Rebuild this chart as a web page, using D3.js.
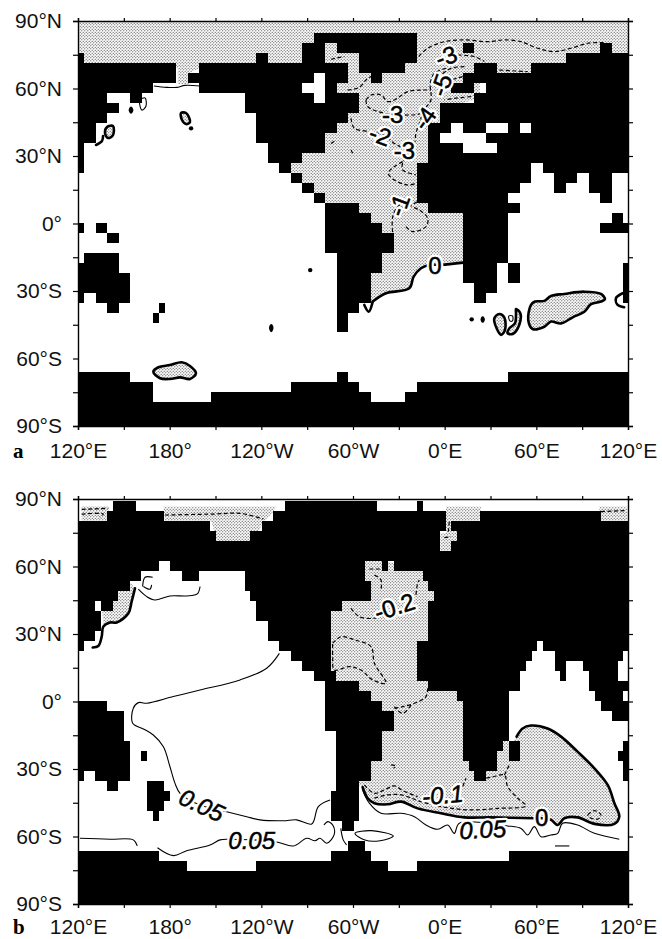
<!DOCTYPE html>
<html>
<head>
<meta charset="utf-8">
<script src="https://cdn.jsdelivr.net/npm/d3@7"></script>
<style>
  html, body { margin: 0; padding: 0; background: #fff; }
  svg { display: block; }
  text { font-family: "Liberation Sans", Arial, sans-serif; }
</style>
</head>
<body>
<svg id="chart" width="662" height="939"></svg>
<script>
// tick labels
var latTicks = [90, 75, 60, 45, 30, 15, 0, -15, -30, -45, -60, -75, -90];
var lonTicks = [120, 150, 180, 210, 240, 270, 300, 330, 360, 390, 420, 450, 480];
var lonLabels = { 120: "120°E", 180: "180°", 240: "120°W", 300: "60°W", 360: "0°E", 420: "60°E", 480: "120°E" };

// land mask of panel a: one list per grid row (north to south), runs of [from, to] column edges
var landA = [
  [], [],
  [[20, 29]],
  [[19, 21], [22, 29], [33, 34], [45, 46]],
  [[-1, 0], [15, 16], [19, 21], [24, 29], [42, 48]],
  [[-1, 8], [10, 23], [24, 28], [34, 36], [39, 48]],
  [[-1, 8], [9, 20], [21, 23], [25, 26], [33, 48]],
  [[-1, 6], [10, 19], [21, 22], [32, 34], [35, 48]],
  [[-1, 2], [4, 5], [14, 20], [21, 24], [34, 48]],
  [[-1, 3], [14, 24], [31, 48]],
  [[-1, 2], [15, 23], [31, 48]],
  [[-1, 1], [15, 22], [30, 32], [33, 35], [37, 38], [39, 48]],
  [[-1, 1], [15, 21], [30, 31], [35, 48]],
  [[-1, 0], [16, 21], [30, 33], [36, 48]],
  [[-1, 0], [16, 19], [30, 48]],
  [[-1, 0], [17, 18], [29, 39], [40, 48]],
  [[18, 19], [29, 39], [41, 43], [44, 46]],
  [[19, 20], [29, 38], [41, 42], [44, 46]],
  [[20, 21], [29, 37], [45, 46]],
  [[21, 24], [30, 38]],
  [[21, 25], [33, 37], [46, 47]],
  [[-1, 0], [1, 2], [21, 26], [33, 37], [45, 48]],
  [[2, 3], [21, 27], [33, 37]],
  [[21, 27], [33, 37]],
  [[0, 3], [22, 26], [33, 37]],
  [[-1, 3], [22, 26], [33, 36], [37, 38], [47, 48]],
  [[-1, 4], [22, 25], [33, 36], [37, 38], [47, 48]],
  [[-1, 4], [22, 25], [34, 36], [47, 48]],
  [[-1, 0], [1, 4], [22, 25], [34, 35], [47, 48]],
  [[2, 3], [6.5, 7], [22, 24]],
  [[6, 6.5], [22, 23]],
  [[22, 23]],
  [], [], [], [],
  [[-1, 4], [22, 23], [37, 48]],
  [[-1, 6], [18, 24], [29, 48]],
  [[-1, 6], [11, 25], [28, 48]],
  [[-1, 48]], [[-1, 48]], [[-1, 48]]
];

// land mask of panel b, same idea on the finer grid
var landB = [
  [[6, 10], [36, 52], [59, 60]],
  [[5, 15], [34, 64], [70, 91]],
  [[0, 23], [32, 64], [65, 96]],
  [[0, 24], [30, 63], [66, 96]],
  [[0, 63], [65, 96]],
  [[0, 96]],
  [[0, 14], [16, 50], [53, 54], [55, 96]],
  [[0, 11], [18, 21], [29, 50], [60, 96]],
  [[0, 9], [29, 51], [61, 96]],
  [[0, 7], [30, 51], [62, 96]],
  [[0, 3], [4, 6], [31, 46], [61, 96]],
  [[0, 4], [31, 44], [61, 96]],
  [[0, 4], [33, 44], [61, 96]],
  [[0, 3], [33, 44], [61, 96]],
  [[0, 1], [35, 44], [59, 80], [81, 96]],
  [[37, 44], [59, 79], [83, 95]],
  [[39, 44], [59, 78], [83, 85], [88, 94]],
  [[41, 45], [59, 77], [84, 85], [89, 94]],
  [[43, 49], [61, 77], [89, 96]],
  [[43, 51], [66, 75], [90, 95]],
  [[0, 5], [43, 53], [67, 75], [91, 96]],
  [[0, 8], [43, 55], [67, 75], [93, 96]],
  [[0, 8], [43, 55], [67, 75]],
  [[0, 8], [45, 53], [67, 75]],
  [[0, 9], [45, 53], [67, 74], [75, 77], [95, 96]],
  [[0, 9], [11, 12], [45, 53], [67, 73], [75, 77], [94, 96]],
  [[0, 9], [45, 51], [68, 73], [95, 96]],
  [[0, 1], [3, 9], [45, 51], [69, 71], [95, 96]],
  [[5, 7], [12, 15], [45, 49]],
  [[12, 16], [44, 49]],
  [[12, 15], [44, 49]],
  [[13, 14], [44, 49]],
  [[46, 48]],
  [],
  [[47, 50]],
  [[0, 14], [44, 51], [75, 96]],
  [[0, 19], [31, 54], [59, 96]],
  [[0, 96]], [[0, 96]], [[0, 96]], [[0, 96]]
];

// negative areas of panel a, as [lon, lat] with lon running 120..480
var shadeA = [
  [[120, 90], [480, 90], [480, 73.6], [422.4, 69.1], [415.8, 65.6], [383.1, 64.7], [383.1, 55.8], [360.2, 51.3], [360.2, 44.7], [353.7, 42.4], [353.7, 10.4], [376.6, 7.8], [376.6, -17.4], [372.2, -17.4], [357.6, -18.4], [349.7, -18.4], [344.5, -19.9], [339.7, -23.6], [336.8, -28.8], [321.6, -31], [312.9, -34.7], [307.9, -32.2], [307.9, -3.8], [285.6, 6.9], [256.1, 24.7], [258.8, 28.2], [285.6, 46], [288.2, 51.3], [288.2, 54.9], [286.9, 59.3], [286.9, 69.1], [199.8, 69.1], [192.5, 66.9], [192.5, 62], [185.3, 62], [185.3, 69.1], [120, 69.1]]
];
var shadeBlobsA = [
  [[414.7, -42.9], [416.5, -36.2], [419.1, -34.7], [425.2, -34.4], [429.6, -32.2], [438.3, -31.3], [451.4, -30.3], [462.3, -31.3], [464.9, -33.7], [462.3, -34.7], [455.8, -35.8], [451.4, -39.2], [443.8, -41.7], [436.1, -44.4], [429.6, -43.6], [425.2, -45.9], [417.6, -46.9]],
  [[169.3, -65.9], [172.6, -63.9], [180.2, -62.9], [187.9, -61.7], [193.3, -63.3], [197.2, -66.6], [193.3, -69.1], [186.8, -68.4], [180.2, -69.1], [173.7, -68.8]],
  [[392.5, -42.1], [395.7, -40.2], [399, -41.7], [399.5, -47.3], [396.9, -49.5], [394, -46.6]],
  [[406.7, -38], [409.5, -39.9], [408.8, -45.1], [404.5, -49.1], [401.2, -48.8], [402.3, -46.6], [406, -44.4], [406.7, -39.9]],
  [[187.4, 49.1], [190.7, 49.1], [193.3, 45.1], [190.7, 44.2], [188.1, 46]],
  [[139, 42.9], [142.9, 43.3], [142.9, 39.3], [139.6, 38], [137.7, 40.2]],
  [[246.5, -45.2], [247.1, -46.4], [246.5, -47.7], [245.9, -46.4]],
  [[384.9, -41.8], [385.5, -42.6], [384.9, -43.5], [384.3, -42.6]],
  [[154.7, 51.4], [155.4, 50.4], [154.7, 49.4], [154, 50.4]]
];
// zero contour of panel a
var zeroA = [
  [[312.9, -34.7], [321.6, -31], [336.8, -28.8], [339.7, -23.6], [344.5, -19.9], [349.7, -18.4], [357.6, -18.4], [372.2, -17.4]],
  [[476.5, -31], [472.1, -33.2], [473.2, -36.2], [477.5, -37.2]],
  [[131.8, 34.9], [135.7, 36.7], [136.4, 38.9]],
  [[307.4, -36.2], [310.3, -39.2], [312.9, -34.7]]
];
var zeroThinA = [
  [[169.7, 61.1], [178, 60.5], [184.6, 60.5], [190, 61.4], [199.8, 61.1]]
];
var thinLoopsA = [
  [[160.6, 54.9], [163.9, 55.8], [164.5, 52.2], [161.9, 50.4], [160.6, 52.2]],
  [[402, -41.1], [404.4, -41.1], [404.4, -43.3], [402.7, -43.3]]
];
// small closed contours, drawn as dots
var dotsA = [[377.7, -42.6], [272, -20.7], [194, 42.3]];
var dashedA = [
  [[343, 74.2], [348.9, 77.9], [359.8, 80.8], [372.9, 81.6], [388.2, 80.8], [399.1, 81.6], [410, 80.8], [420.9, 77.9], [431.8, 76.4], [442.7, 77.9], [453.6, 80.1], [464.5, 80.4]],
  [[285.6, 73], [294.3, 74.2]],
  [[368.5, 74.9], [379.4, 74.2], [386, 72]],
  [[395.8, 68.2], [414.3, 67.5]],
  [[360.9, 69], [353.2, 66.7], [350.6, 62.3], [351, 54.9], [346.7, 50.5], [343.4, 44.5], [341.2, 40.1], [340.2, 35.6], [336.9, 32.7], [332.5, 26.8], [332.5, 23.8], [341.2, 21.6]],
  [[372.9, 69.7], [364.2, 69], [357.6, 66]],
  [[371.8, 65.3], [364.2, 63.8]],
  [[377.2, 56.4], [366.3, 55.6], [359.8, 54.9]],
  [[296.5, 59.3], [304.1, 60.5], [308.5, 63.8], [311.8, 65.3]],
  [[308.5, 54.9], [311.8, 57.1], [318.3, 57.1], [322.7, 54.2], [327.1, 54.9], [335.8, 58.6], [344.5, 59.3], [351, 59.3]],
  [[308.5, 54.9], [309.6, 52], [320.5, 49], [334.7, 48.2], [344.5, 49], [347.8, 52]],
  [[298.7, 46.8], [300.9, 42.3], [311.8, 40.8], [320.5, 39.3], [327.1, 35.6], [335.8, 32.7]],
  [[332.5, 27.5], [327.1, 25.3], [323.1, 22.3], [327.1, 19.3], [335.8, 17.1], [341.9, 17.9]],
  [[341.9, 9.7], [333.6, 6.8], [330.3, 8.2], [326, 3], [326, -4.4]],
  [[334.7, -1.4], [339, -3.6], [347.8, -1.4], [348.9, 2.3], [343.4, 6], [338, 7.5]],
  [[285.6, 35.6], [288.9, 37.1]],
  [[298.7, 32.7], [299.8, 31.2]]
];
var labelsA = [
  { text: "-3", lon: 360.9, lat: 74.4, rot: -20 },
  { text: "-5", lon: 357.6, lat: 61.6, rot: -70 },
  { text: "-3", lon: 326, lat: 48.5, rot: 0 },
  { text: "-4", lon: 346.7, lat: 46.7, rot: -55 },
  { text: "-2", lon: 317.9, lat: 39.3, rot: 20 },
  { text: "-3", lon: 333.6, lat: 32.7, rot: 0 },
  { text: "-1", lon: 329.9, lat: 8.2, rot: -70 },
  { text: "0", lon: 353.7, lat: -18.4, rot: 0 }
];

// panel b
var shadeB = [
  [[122.4, 86.6], [139.9, 86.6], [139.9, 79.9], [122.4, 79.9]],
  [[175.9, 86.6], [250.1, 86.6], [246.8, 83.6], [241.3, 79.9], [234.8, 71.1], [210.8, 71.1], [207.5, 79.9], [177, 79.9]],
  [[360.9, 86.6], [383.8, 86.6], [382.7, 79.9], [368.1, 79.9], [368.1, 65.9], [357.2, 65.9], [357.2, 74.7], [360.9, 74.7]],
  [[461.2, 86.6], [479.4, 86.6], [479.4, 79.5], [461.7, 79.5]],
  [[136.6, 33.3], [141, 35.1], [145.3, 35.1], [153, 39.2], [155.1, 44.4], [157.3, 50.3], [150, 56], [135, 48]],
  [[294.7, 65.1], [356.9, 58.4], [356.9, 9.6], [376.6, 5.1], [376.6, 0.7], [400.1, -16.2], [402.7, -19.3], [407.1, -15.6], [411, -12], [416.5, -10.7], [427.4, -12], [436.2, -15.6], [447, -22.3], [458, -29.7], [466.7, -37.1], [471.1, -45.2], [474.3, -51.2], [471.1, -54.4], [458, -54.4], [447, -51.5], [438.3, -51.9], [434, -54.9], [429.6, -52.6], [423.5, -51.9], [418.7, -51.9], [390.3, -51.5], [372.9, -51.5], [357.6, -49.7], [342.3, -47.5], [331.4, -44.5], [322.7, -45.7], [314, -45.2], [309.6, -43], [306.3, -38.1], [298, -34.9], [298, 0.7], [283.6, 5.1], [283.6, 38.4], [291.5, 42.9], [294.7, 49.6]]
];
var zeroB = [
  [[407.1, -15.6], [411, -12], [416.5, -10.7], [427.4, -12], [436.2, -15.6], [447, -22.3], [458, -29.7], [466.7, -37.1], [471.1, -45.2], [474.3, -51.2], [471.1, -54.4], [458, -54.4], [447, -51.5], [438.3, -51.9], [434, -54.9], [429.6, -52.6], [423.5, -51.9], [418.7, -51.9], [390.3, -51.5], [372.9, -51.5], [357.6, -49.7], [342.3, -47.5], [331.4, -44.5], [322.7, -45.7], [314, -45.2], [309.6, -43], [306.3, -38.1]],
  [[129.6, 24], [133.3, 24.7], [135.5, 28.8], [136.6, 33.3], [141, 35.1], [145.3, 35.1], [153, 39.2], [155.1, 44.4], [157.3, 50.3]]
];
var thinB = [
  [[159.5, 49.9], [165, 46.6], [170.4, 45.1], [180.2, 46.9], [191.1, 46.9], [198.1, 47.8], [199.9, 51.1]],
  [[162.3, 51.1], [163.9, 55.2], [168.9, 55.2]],
  [[162.8, 51.1], [167.1, 49.9], [168.2, 51.8]],
  [[251.8, 21.4], [243.5, 14.8], [226.1, 9.6], [199.9, 5.1], [182.4, 2.2], [165, -0.8], [159.5, -0.5], [156.2, -3], [155.8, -9.7], [162.8, -12.2], [169.3, -14.9], [175.9, -20.1], [180.2, -29], [183.5, -36.4], [186.8, -40.8], [199.9, -46], [217.3, -49], [230.4, -51.2], [239.1, -52.6], [254.4, -53], [263.1, -52.6], [273, -54.4], [277.3, -46.7], [285, -43.8]],
  [[121.3, -60.8], [141, -61.2], [156.2, -61.5], [158.8, -64.2]],
  [[172, -65], [182.4, -68.5], [191.1, -66.3], [206.4, -63.8], [213, -61.5], [218.4, -61.2], [249, -62.3], [261, -64.2], [269.7, -60.8], [275.1, -61.9], [278.4, -60.8], [282.8, -63], [287.6, -59.3], [287.1, -55.3], [283.6, -53.4], [281, -54.9]],
  [[292, -56.4], [293.6, -61.5], [295.8, -63.7]],
  [[306.3, -39.3], [310.7, -45.2], [318.3, -49.7], [331.4, -49.7], [340.2, -51.2], [347.8, -54.9], [355.4, -56.8], [362, -54.9], [366.3, -58.6], [369.6, -54.1], [401.2, -55.3], [410, -56.4], [414.3, -59.3], [418.7, -55.6], [423.1, -60.1], [429.6, -59.3], [434, -58.6], [437.2, -54.1], [447, -54.9], [458, -58.6], [474.3, -61.2]],
  [[432.2, -64.2], [441.6, -64.2]]
];
var thinLoopsB = [
  [[301.3, -58.6], [312.2, -57.4], [326.4, -59.8], [317.7, -61.9], [307.8, -61.6]]
];
var dashedB = [
  [[298.7, 41.4], [304.1, 37.7], [314, 37], [320.5, 38.5]],
  [[341.2, 47.4], [342.3, 52.5], [343.4, 54]],
  [[314, 56.2], [318.3, 54], [318.3, 49.6]],
  [[286.7, 25.9], [292.1, 28.8], [300.9, 27.4], [311.8, 24.4], [314, 17], [321.6, 8.1], [312.9, 9.6], [305.2, 14], [297.6, 15.5], [287.8, 14], [286.7, 20], [286.7, 25.9]],
  [[327.1, -3], [332.5, -2.3], [340.2, -0.8], [347.8, 2.2], [348.9, 5.9]],
  [[338, -1.6], [332.5, -5.3], [327.1, -2.3]],
  [[307.4, -37.1], [314, -40.8], [320.5, -39.3], [327.1, -37.5], [332.5, -39.6], [342.3, -42.3]],
  [[371.8, -37.8], [374, -34.1]],
  [[314, -43], [322.7, -41.5], [331.4, -41.5], [344.5, -44.5], [359.8, -47], [377.2, -48.2], [394.7, -47.5], [413.2, -46.4], [407.8, -43], [401.2, -37.8], [399.1, -32.7], [390.3, -33.7], [379.4, -34.9]],
  [[399.1, -32.7], [402.3, -28.2]],
  [[453.6, -50.4], [458, -48.5], [462.3, -50.4], [460.2, -52.3], [454.7, -51.5], [453.6, -50.4]],
  [[324.9, -28.2], [328.1, -28.7], [326.6, -29.7]],
  [[177, 82.9], [208.6, 83.3], [226.1, 83.6], [241.3, 81.1]],
  [[122.4, 85.4], [139.9, 85.9]],
  [[122.4, 83.3], [136.6, 83.3], [134.4, 81.9]],
  [[363, 79.9], [362.4, 75.5]],
  [[359.8, 72.8], [364.2, 73.3]],
  [[462.3, 84.4], [477.6, 84.8]],
  [[310.7, 58.9], [318.3, 58.9]]
];
var labelsB = [
  { text: "0.05", lon: 201, lat: -46, rot: 25, italic: true },
  { text: "0.05", lon: 233.7, lat: -61.8, rot: 0, italic: true },
  { text: "0.05", lon: 384.9, lat: -56.8, rot: -3, italic: true },
  { text: "-0.1", lon: 358.7, lat: -41.5, rot: -5, italic: true },
  { text: "0", lon: 423.5, lat: -51.5, rot: 0 },
  { text: "-0.2", lon: 327.1, lat: 42.2, rot: -18 }
];

var svg = d3.select("#chart");

// dot screen used for the shaded areas
var pat = svg.append("defs").append("pattern")
    .attr("id", "screen")
    .attr("patternUnits", "userSpaceOnUse")
    .attr("width", 3)
    .attr("height", 3);
pat.append("rect").attr("width", 3).attr("height", 3).attr("fill", "#fbfbfb");
pat.append("circle").attr("cx", 0.75).attr("cy", 0.75).attr("r", 0.62).attr("fill", "#444");
pat.append("circle").attr("cx", 2.25).attr("cy", 2.25).attr("r", 0.62).attr("fill", "#444");

function drawPanel(p) {
    var x = d3.scaleLinear().domain([120, 480]).range([78, 628]);
    var y = d3.scaleLinear().domain([90, -90]).range([p.top, p.top + 405]);

    var clipId = "clip" + p.name;
    svg.select("defs").append("clipPath").attr("id", clipId)
        .append("rect").attr("x", 78).attr("y", p.top).attr("width", 550).attr("height", 405);

    var g = svg.append("g");
    var map = g.append("g").attr("clip-path", "url(#" + clipId + ")");

    var line = d3.line().x(function (d) { return x(d[0]); }).y(function (d) { return y(d[1]); });
    var smooth = d3.line().x(function (d) { return x(d[0]); }).y(function (d) { return y(d[1]); }).curve(d3.curveCatmullRom);
    var loop = d3.line().x(function (d) { return x(d[0]); }).y(function (d) { return y(d[1]); }).curve(d3.curveCatmullRomClosed);

    // shaded negative areas go under the land
    map.selectAll("path.shade").data(p.shade).enter().append("path")
        .attr("class", "shade")
        .attr("fill", "url(#screen)")
        .attr("d", function (d) { return line(d) + "Z"; });
    map.selectAll("path.blob").data(p.blobs).enter().append("path")
        .attr("class", "blob")
        .attr("fill", "url(#screen)")
        .attr("stroke", "#000")
        .attr("stroke-width", 2.6)
        .attr("d", loop);

    // land cells
    var cells = [];
    p.land.forEach(function (row, r) {
        row.forEach(function (run) { cells.push({ r: r, from: run[0], to: run[1] }); });
    });
    map.selectAll("rect.land").data(cells).enter().append("rect")
        .attr("class", "land")
        .attr("shape-rendering", "crispEdges")
        .attr("fill", "#000")
        .attr("x", function (d) { return x(p.colLon(d.from)); })
        .attr("width", function (d) { return x(p.colLon(d.to)) - x(p.colLon(d.from)); })
        .attr("y", function (d) { return y(p.rowLat(d.r - 1)); })
        .attr("height", function (d) { return y(p.rowLat(d.r)) - y(p.rowLat(d.r - 1)); });

    // contours
    map.selectAll("path.zero").data(p.zero).enter().append("path")
        .attr("class", "zero")
        .attr("fill", "none").attr("stroke", "#000").attr("stroke-width", 2.6).attr("stroke-linecap", "round")
        .attr("d", smooth);
    map.selectAll("path.thin").data(p.thin).enter().append("path")
        .attr("class", "thin")
        .attr("fill", "none").attr("stroke", "#000").attr("stroke-width", 1.1)
        .attr("d", smooth);
    map.selectAll("path.thinloop").data(p.thinLoops).enter().append("path")
        .attr("class", "thinloop")
        .attr("fill", "none").attr("stroke", "#000").attr("stroke-width", 1.1)
        .attr("d", loop);
    map.selectAll("path.dashed").data(p.dashed).enter().append("path")
        .attr("class", "dashed")
        .attr("fill", "none").attr("stroke", "#000").attr("stroke-width", 1.2).attr("stroke-dasharray", "4,2.5")
        .attr("d", smooth);
    map.selectAll("circle.dot").data(p.dots).enter().append("circle")
        .attr("class", "dot")
        .attr("fill", "#000").attr("r", 2.2)
        .attr("cx", function (d) { return x(d[0]); })
        .attr("cy", function (d) { return y(d[1]); });

    // contour labels sit on a white patch
    var labels = map.selectAll("g.lab").data(p.labels).enter().append("g")
        .attr("class", "lab")
        .attr("transform", function (d) { return "translate(" + x(d.lon) + "," + y(d.lat) + ") rotate(" + d.rot + ")"; });
    labels.append("text")
        .attr("text-anchor", "middle").attr("dy", "0.36em")
        .attr("font-size", 24)
        .attr("font-style", function (d) { return d.italic ? "italic" : "normal"; })
        .attr("fill", "#fff").attr("stroke", "#fff").attr("stroke-width", 5).attr("stroke-linejoin", "round")
        .text(function (d) { return d.text; });
    labels.append("text")
        .attr("text-anchor", "middle").attr("dy", "0.36em")
        .attr("font-size", 24)
        .attr("font-style", function (d) { return d.italic ? "italic" : "normal"; })
        .attr("fill", "#000").attr("stroke", "#000").attr("stroke-width", 0.5)
        .text(function (d) { return d.text; });

    // Add the axes
    var left = g.append("g").attr("transform", "translate(78,0)")
        .call(d3.axisLeft(y).tickValues(latTicks).tickSize(5).tickPadding(11)
            .tickFormat(function (d) {
                if (d % 30 !== 0) return "";
                if (d === 0) return "0°";
                return Math.abs(d) + (d > 0 ? "°N" : "°S");
            }));
    var right = g.append("g").attr("transform", "translate(628,0)")
        .call(d3.axisRight(y).tickValues(latTicks).tickSize(5).tickFormat(""));
    var top = g.append("g").attr("transform", "translate(0," + p.top + ")")
        .call(d3.axisTop(x).tickValues(lonTicks).tickSize(3).tickFormat(""));
    var bottom = g.append("g").attr("transform", "translate(0," + (p.top + 405) + ")")
        .call(d3.axisBottom(x).tickValues(lonTicks).tickSize(4).tickPadding(p.tickGap)
            .tickFormat(function (d) { return lonLabels[d] || ""; }));

    [left, right, top, bottom].forEach(function (a) {
        a.selectAll("text").attr("font-family", '"Liberation Sans", Arial, sans-serif').attr("font-size", 21).attr("fill", "#111");
        a.selectAll("line").attr("stroke", "#000").attr("stroke-width", 1.2);
        a.select(".domain").attr("stroke", "#000").attr("stroke-width", 1.4);
    });

    g.append("text")
        .attr("x", 13).attr("y", p.letterY)
        .attr("font-size", 21)
        .attr("font-weight", "bold")
        .style("font-family", '"Liberation Serif", serif')
        .attr("fill", "#000")
        .text(p.name);
}

drawPanel({
    name: "a", top: 21, tickGap: 13, letterY: 458,
    land: landA,
    colLon: function (j) { return 124.25 + 7.5 * j; },
    rowLat: function (r) { return Math.max(-90, Math.min(90, 88.89 - 4.43 * r)); },
    shade: shadeA, blobs: shadeBlobsA,
    zero: zeroA, thin: zeroThinA, thinLoops: thinLoopsA, dashed: dashedA, dots: dotsA,
    labels: labelsA
});

drawPanel({
    name: "b", top: 499, tickGap: 11, letterY: 934,
    land: landB,
    colLon: function (c) { return 120.13 + 3.757 * c; },
    rowLat: function (r) { return Math.max(-90, Math.min(90, 84.67 - 4.444 * r)); },
    shade: shadeB, blobs: [],
    zero: zeroB, thin: thinB, thinLoops: thinLoopsB, dashed: dashedB, dots: [],
    labels: labelsB
});
</script>
</body>
</html>
